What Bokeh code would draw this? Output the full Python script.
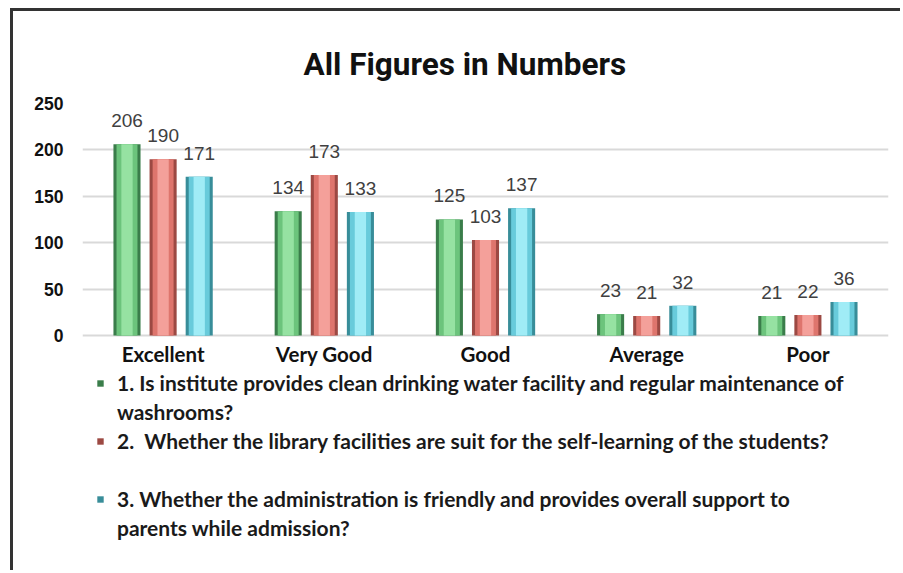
from bokeh.plotting import figure
from bokeh.models import ColumnDataSource, FactorRange, Legend, LegendItem, Title
from bokeh.core.properties import value
from bokeh.transform import dodge
from bokeh.embed import file_html
from bokeh.resources import INLINE

categories = ["Excellent", "Very Good", "Good", "Average", "Poor"]
q1 = [206, 134, 125, 23, 21]
q2 = [190, 173, 103, 21, 22]
q3 = [171, 133, 137, 32, 36]
legend_lines = [
    ["1. Is institute provides clean drinking water facility and regular maintenance of", "washrooms?"],
    ["2.  Whether the library facilities are suit for the self-learning of the students?", " "],
    ["3. Whether the administration is friendly and provides overall support to", "parents while admission?"],
]
y_ticks = [0, 50, 100, 150, 200, 250]

dark = ["#3a7d4a", "#9c4943", "#388d99"]
mid = ["#6cc47c", "#de756d", "#68cbdb"]
light = ["#96e2a2", "#f4a09a", "#a0ecf6"]

src = ColumnDataSource(dict(cat=categories, q1=q1, q2=q2, q3=q3, zero=[0] * len(categories),
                            l1=[str(v) for v in q1], l2=[str(v) for v in q2], l3=[str(v) for v in q3]))

# frame extends below the value axis to host the category labels and the legend
p = figure(x_range=FactorRange(*categories, range_padding=0), y_range=(-256.5, 250),
           width=890, height=562, output_backend="svg", toolbar_location=None,
           min_border_left=69, min_border_right=15, min_border_top=92, min_border_bottom=0)
p.styles = {"margin-left": "10px", "margin-top": "8px",
            "border-left": "3px solid #333333", "border-top": "3px solid #333333"}
p.outline_line_color = None
p.background_fill_color = "white"
p.border_fill_color = "white"
p.xaxis.visible = False

p.title = Title(text="All Figures in Numbers", align="left", offset=221,
                text_font="Roboto", text_font_size="31.5px",
                text_font_style="bold", text_color="#111111", standoff=42)

offsets = [-0.224, 0.0, 0.224]
keys = ["q1", "q2", "q3"]
labels = ["l1", "l2", "l3"]
blank = p.vbar(x=[], top=[], width=0.1, fill_alpha=0, line_alpha=0)
legend_items = []
for i in range(3):
    xs = dodge("cat", offsets[i], range=p.x_range)
    r0 = p.vbar(x=xs, top=keys[i], width=0.168, source=src, fill_color=dark[i], line_color=None)
    p.vbar(x=xs, top=keys[i], width=0.13, source=src, fill_color=mid[i], line_color=None)
    p.vbar(x=xs, top=keys[i], width=0.07, source=src, fill_color=light[i], line_color=None)
    p.text(x=xs, y=keys[i], text=labels[i], source=src, text_align="center",
           text_baseline="bottom", y_offset=-17, text_font_size="19px",
           text_font=value("Liberation Sans"), text_color="#404040")
    legend_items.append(LegendItem(label=legend_lines[i][0], renderers=[r0]))
    legend_items.append(LegendItem(label=legend_lines[i][1], renderers=[blank]))

# category labels under the value axis
p.text(x="cat", y="zero", text="cat", source=src, text_align="center", text_baseline="middle",
       y_offset=19, text_font_size="20.5px", text_font=value("Lato"), text_font_style="bold",
       text_color="#111111")

p.yaxis.ticker = y_ticks
p.yaxis.axis_line_color = None
p.yaxis.major_tick_line_color = None
p.yaxis.minor_tick_line_color = None
p.yaxis.major_tick_out = 0
p.yaxis.minor_tick_out = 0
p.yaxis.major_label_text_font = "Liberation Sans"
p.yaxis.major_label_text_font_style = "bold"
p.yaxis.major_label_text_font_size = "17.5px"
p.yaxis.major_label_text_color = "#111111"
p.yaxis.major_label_standoff = 19

p.xgrid.grid_line_color = None
p.ygrid.grid_line_color = "#d9d9d9"
p.ygrid.grid_line_width = 2

legend = Legend(items=legend_items, location=(14, 31), orientation="vertical",
                label_text_font="Lato", label_text_font_style="bold",
                label_text_font_size="21px", label_text_color="#1a1a1a",
                glyph_width=8, glyph_height=8, label_standoff=13, spacing=0,
                label_height=29, border_line_color=None, background_fill_alpha=0,
                padding=4, margin=0)
p.add_layout(legend, "center")

open("out.html", "w").write(file_html(p, INLINE))
